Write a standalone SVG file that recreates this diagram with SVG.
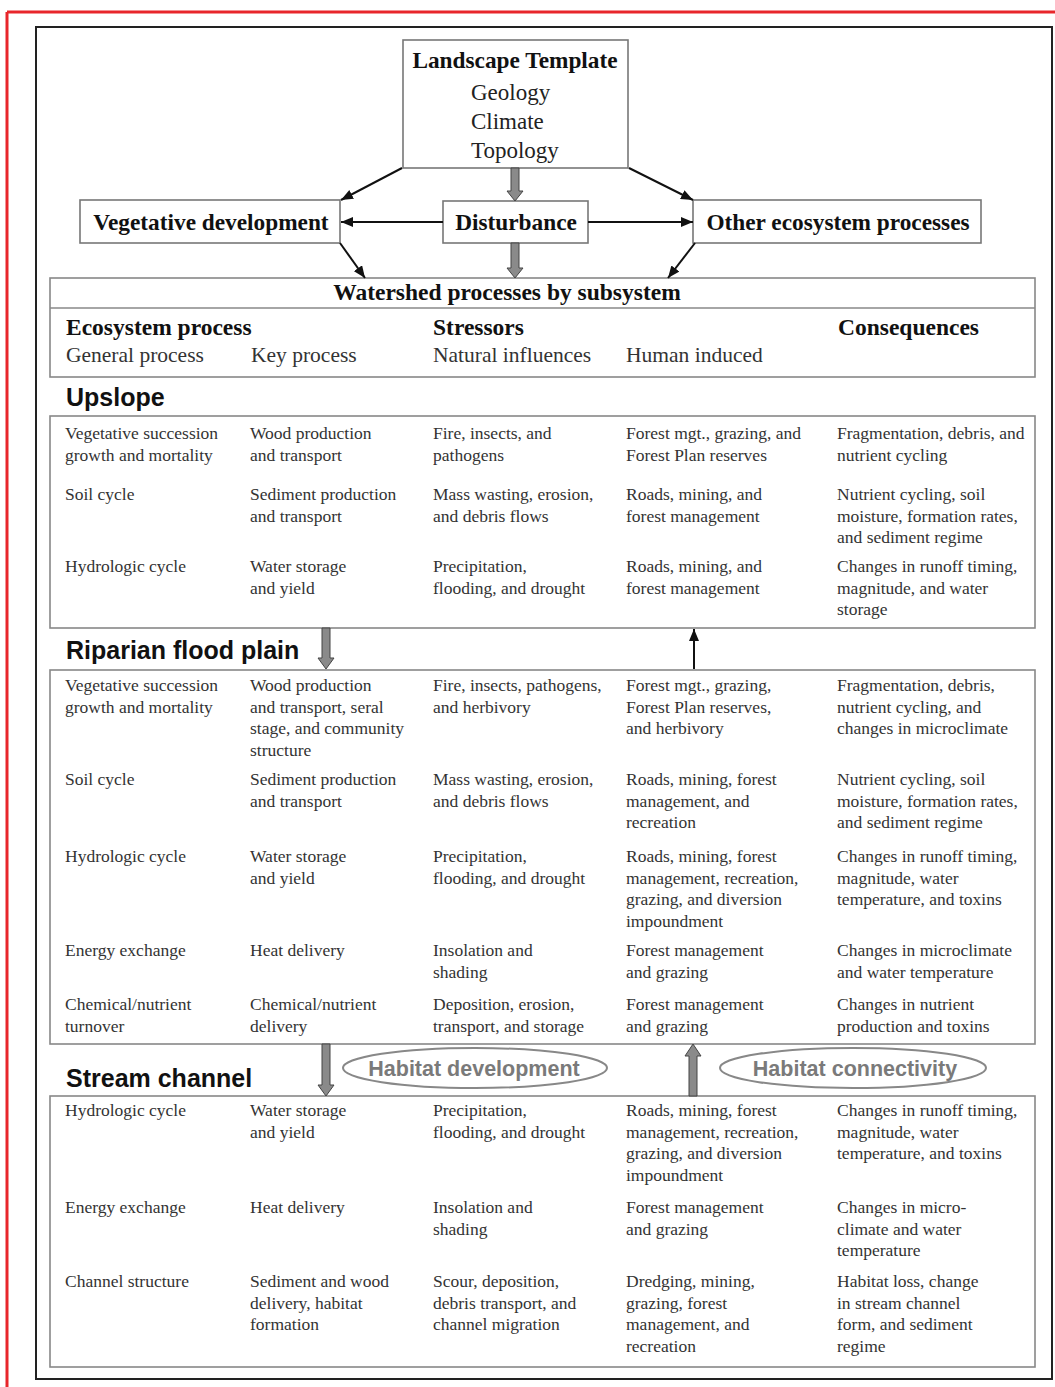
<svg xmlns="http://www.w3.org/2000/svg" width="1055" height="1387" viewBox="0 0 1055 1387">
<style>
.t{font-family:"Liberation Serif","Times New Roman",serif;font-size:17.5px;fill:#333}
.b{font-family:"Liberation Serif","Times New Roman",serif;font-weight:bold;font-size:23.3px;fill:#111}
.n{font-family:"Liberation Serif","Times New Roman",serif;font-size:23px;fill:#222}
.hd{font-family:"Liberation Serif","Times New Roman",serif;font-weight:bold;font-size:23.5px;fill:#111}
.sh{font-family:"Liberation Serif","Times New Roman",serif;font-size:21.5px;fill:#333}
.sec{font-family:"Liberation Sans",Arial,sans-serif;font-weight:bold;font-size:25px;fill:#111}
.ell{font-family:"Liberation Sans",Arial,sans-serif;font-weight:bold;font-size:21.5px;fill:#7a7a7a}
.box{fill:#fff;stroke:#777;stroke-width:1.6}
.tbl{fill:none;stroke:#888;stroke-width:1.6}
.thin{stroke:#111;stroke-width:2;fill:none}
.grey{fill:#8a8a8a;stroke:#444;stroke-width:1}
.oval{fill:none;stroke:#888;stroke-width:2}
</style>
<defs>
<marker id="ah" viewBox="0 0 12 10" refX="12" refY="5" markerWidth="12" markerHeight="10" markerUnits="userSpaceOnUse" orient="auto">
<path d="M0,0 L12,5 L0,10 Z" fill="#111"/>
</marker>
</defs>
<rect width="1055" height="1387" fill="#fff"/>
<line x1="7" y1="12" x2="1055" y2="12" stroke="#e8262b" stroke-width="3"/>
<line x1="7" y1="12" x2="7" y2="1387" stroke="#e8262b" stroke-width="3"/>
<rect x="36" y="27" width="1016" height="1352" fill="none" stroke="#222" stroke-width="2"/>

<g id="landscape-template">
<rect class="box" x="403" y="40" width="225" height="128"/>
<text class="b" x="515" y="68" text-anchor="middle">Landscape Template</text>
<text class="n" x="471" y="100">Geology</text>
<text class="n" x="471" y="129">Climate</text>
<text class="n" x="471" y="158">Topology</text>
</g>
<g id="vegetative-development">
<rect class="box" x="80" y="200" width="260" height="43"/>
<text class="b" x="211" y="230" text-anchor="middle">Vegetative development</text>
</g>
<g id="disturbance">
<rect class="box" x="443" y="201" width="145" height="42"/>
<text class="b" x="516" y="230" text-anchor="middle">Disturbance</text>
</g>
<g id="other-ecosystem-processes">
<rect class="box" x="693" y="200" width="288" height="43"/>
<text class="b" x="838" y="230" text-anchor="middle">Other ecosystem processes</text>
</g>

<g id="watershed-header">
<rect class="tbl" x="50" y="278" width="985" height="99"/>
<line x1="50" y1="308" x2="1035" y2="308" stroke="#888" stroke-width="1.6"/>
<text class="hd" x="507" y="300" text-anchor="middle">Watershed processes by subsystem</text>
<text class="hd" x="66" y="335">Ecosystem process</text>
<text class="hd" x="433" y="335">Stressors</text>
<text class="hd" x="838" y="335">Consequences</text>
<text class="sh" x="66" y="362">General process</text>
<text class="sh" x="251" y="362">Key process</text>
<text class="sh" x="433" y="362">Natural influences</text>
<text class="sh" x="626" y="362">Human induced</text>
</g>

<g id="upslope">
<text class="sec" x="66" y="406">Upslope</text>
<rect class="tbl" x="50" y="416" width="985" height="212"/>
<text class="t" x="65" y="439">Vegetative succession<tspan x="65" dy="21.5">growth and mortality</tspan></text>
<text class="t" x="250" y="439">Wood production<tspan x="250" dy="21.5">and transport</tspan></text>
<text class="t" x="433" y="439">Fire, insects, and<tspan x="433" dy="21.5">pathogens</tspan></text>
<text class="t" x="626" y="439">Forest mgt., grazing, and<tspan x="626" dy="21.5">Forest Plan reserves</tspan></text>
<text class="t" x="837" y="439">Fragmentation, debris, and<tspan x="837" dy="21.5">nutrient cycling</tspan></text>

<text class="t" x="65" y="500">Soil cycle</text>
<text class="t" x="250" y="500">Sediment production<tspan x="250" dy="21.5">and transport</tspan></text>
<text class="t" x="433" y="500">Mass wasting, erosion,<tspan x="433" dy="21.5">and debris flows</tspan></text>
<text class="t" x="626" y="500">Roads, mining, and<tspan x="626" dy="21.5">forest management</tspan></text>
<text class="t" x="837" y="500">Nutrient cycling, soil<tspan x="837" dy="21.5">moisture, formation rates,</tspan><tspan x="837" dy="21.5">and sediment regime</tspan></text>

<text class="t" x="65" y="572">Hydrologic cycle</text>
<text class="t" x="250" y="572">Water storage<tspan x="250" dy="21.5">and yield</tspan></text>
<text class="t" x="433" y="572">Precipitation,<tspan x="433" dy="21.5">flooding, and drought</tspan></text>
<text class="t" x="626" y="572">Roads, mining, and<tspan x="626" dy="21.5">forest management</tspan></text>
<text class="t" x="837" y="572">Changes in runoff timing,<tspan x="837" dy="21.5">magnitude, and water</tspan><tspan x="837" dy="21.5">storage</tspan></text>
</g>

<g id="riparian-flood-plain">
<text class="sec" x="66" y="659">Riparian flood plain</text>
<rect class="tbl" x="50" y="670" width="985" height="374"/>
<text class="t" x="65" y="691">Vegetative succession<tspan x="65" dy="21.7">growth and mortality</tspan></text>
<text class="t" x="250" y="691">Wood production<tspan x="250" dy="21.7">and transport, seral</tspan><tspan x="250" dy="21.7">stage, and community</tspan><tspan x="250" dy="21.7">structure</tspan></text>
<text class="t" x="433" y="691">Fire, insects, pathogens,<tspan x="433" dy="21.7">and herbivory</tspan></text>
<text class="t" x="626" y="691">Forest mgt., grazing,<tspan x="626" dy="21.7">Forest Plan reserves,</tspan><tspan x="626" dy="21.7">and herbivory</tspan></text>
<text class="t" x="837" y="691">Fragmentation, debris,<tspan x="837" dy="21.7">nutrient cycling, and</tspan><tspan x="837" dy="21.7">changes in microclimate</tspan></text>

<text class="t" x="65" y="785">Soil cycle</text>
<text class="t" x="250" y="785">Sediment production<tspan x="250" dy="21.7">and transport</tspan></text>
<text class="t" x="433" y="785">Mass wasting, erosion,<tspan x="433" dy="21.7">and debris flows</tspan></text>
<text class="t" x="626" y="785">Roads, mining, forest<tspan x="626" dy="21.7">management, and</tspan><tspan x="626" dy="21.7">recreation</tspan></text>
<text class="t" x="837" y="785">Nutrient cycling, soil<tspan x="837" dy="21.7">moisture, formation rates,</tspan><tspan x="837" dy="21.7">and sediment regime</tspan></text>

<text class="t" x="65" y="862">Hydrologic cycle</text>
<text class="t" x="250" y="862">Water storage<tspan x="250" dy="21.7">and yield</tspan></text>
<text class="t" x="433" y="862">Precipitation,<tspan x="433" dy="21.7">flooding, and drought</tspan></text>
<text class="t" x="626" y="862">Roads, mining, forest<tspan x="626" dy="21.7">management, recreation,</tspan><tspan x="626" dy="21.7">grazing, and diversion</tspan><tspan x="626" dy="21.7">impoundment</tspan></text>
<text class="t" x="837" y="862">Changes in runoff timing,<tspan x="837" dy="21.7">magnitude, water</tspan><tspan x="837" dy="21.7">temperature, and toxins</tspan></text>

<text class="t" x="65" y="956">Energy exchange</text>
<text class="t" x="250" y="956">Heat delivery</text>
<text class="t" x="433" y="956">Insolation and<tspan x="433" dy="21.7">shading</tspan></text>
<text class="t" x="626" y="956">Forest management<tspan x="626" dy="21.7">and grazing</tspan></text>
<text class="t" x="837" y="956">Changes in microclimate<tspan x="837" dy="21.7">and water temperature</tspan></text>

<text class="t" x="65" y="1010">Chemical/nutrient<tspan x="65" dy="21.7">turnover</tspan></text>
<text class="t" x="250" y="1010">Chemical/nutrient<tspan x="250" dy="21.7">delivery</tspan></text>
<text class="t" x="433" y="1010">Deposition, erosion,<tspan x="433" dy="21.7">transport, and storage</tspan></text>
<text class="t" x="626" y="1010">Forest management<tspan x="626" dy="21.7">and grazing</tspan></text>
<text class="t" x="837" y="1010">Changes in nutrient<tspan x="837" dy="21.7">production and toxins</tspan></text>
</g>

<g id="habitat-development">
<ellipse class="oval" cx="475" cy="1068" rx="132" ry="20"/>
<text class="ell" x="474" y="1076" text-anchor="middle">Habitat development</text>
</g>
<g id="habitat-connectivity">
<ellipse class="oval" cx="853" cy="1068" rx="133" ry="20"/>
<text class="ell" x="855" y="1076" text-anchor="middle">Habitat connectivity</text>
</g>

<g id="stream-channel">
<text class="sec" x="66" y="1087">Stream channel</text>
<rect class="tbl" x="50" y="1096" width="985" height="271"/>
<text class="t" x="65" y="1116">Hydrologic cycle</text>
<text class="t" x="250" y="1116">Water storage<tspan x="250" dy="21.7">and yield</tspan></text>
<text class="t" x="433" y="1116">Precipitation,<tspan x="433" dy="21.7">flooding, and drought</tspan></text>
<text class="t" x="626" y="1116">Roads, mining, forest<tspan x="626" dy="21.7">management, recreation,</tspan><tspan x="626" dy="21.7">grazing, and diversion</tspan><tspan x="626" dy="21.7">impoundment</tspan></text>
<text class="t" x="837" y="1116">Changes in runoff timing,<tspan x="837" dy="21.7">magnitude, water</tspan><tspan x="837" dy="21.7">temperature, and toxins</tspan></text>

<text class="t" x="65" y="1213">Energy exchange</text>
<text class="t" x="250" y="1213">Heat delivery</text>
<text class="t" x="433" y="1213">Insolation and<tspan x="433" dy="21.7">shading</tspan></text>
<text class="t" x="626" y="1213">Forest management<tspan x="626" dy="21.7">and grazing</tspan></text>
<text class="t" x="837" y="1213">Changes in micro-<tspan x="837" dy="21.7">climate and water</tspan><tspan x="837" dy="21.7">temperature</tspan></text>

<text class="t" x="65" y="1287">Channel structure</text>
<text class="t" x="250" y="1287">Sediment and wood<tspan x="250" dy="21.7">delivery, habitat</tspan><tspan x="250" dy="21.7">formation</tspan></text>
<text class="t" x="433" y="1287">Scour, deposition,<tspan x="433" dy="21.7">debris transport, and</tspan><tspan x="433" dy="21.7">channel migration</tspan></text>
<text class="t" x="626" y="1287">Dredging, mining,<tspan x="626" dy="21.7">grazing, forest</tspan><tspan x="626" dy="21.7">management, and</tspan><tspan x="626" dy="21.7">recreation</tspan></text>
<text class="t" x="837" y="1287">Habitat loss, change<tspan x="837" dy="21.7">in stream channel</tspan><tspan x="837" dy="21.7">form, and sediment</tspan><tspan x="837" dy="21.7">regime</tspan></text>
</g>

<g id="connectors">
<line class="thin" x1="402" y1="168" x2="341" y2="200" marker-end="url(#ah)"/>
<line class="thin" x1="629" y1="168" x2="693" y2="200" marker-end="url(#ah)"/>
<line class="thin" x1="443" y1="222" x2="341" y2="222" marker-end="url(#ah)"/>
<line class="thin" x1="588" y1="222" x2="693" y2="222" marker-end="url(#ah)"/>
<line class="thin" x1="340" y1="243" x2="365" y2="278" marker-end="url(#ah)"/>
<line class="thin" x1="695" y1="243" x2="668" y2="278" marker-end="url(#ah)"/>
<path class="grey" d="M511,168 L519,168 L519,191 L523,191 L515,201 L507,191 L511,191 Z"/>
<path class="grey" d="M511,243 L519,243 L519,268 L523,268 L515,278 L507,268 L511,268 Z"/>
<path class="grey" d="M322,628 L330,628 L330,658 L334,658 L326,669 L318,658 L322,658 Z"/>
<line class="thin" x1="694" y1="669" x2="694" y2="629" marker-end="url(#ah)"/>
<path class="grey" d="M322,1044 L330,1044 L330,1085 L334,1085 L326,1096 L318,1085 L322,1085 Z"/>
<path class="grey" d="M689,1096 L697,1096 L697,1056 L701,1056 L693,1044 L685,1056 L689,1056 Z"/>
</g>
</svg>
